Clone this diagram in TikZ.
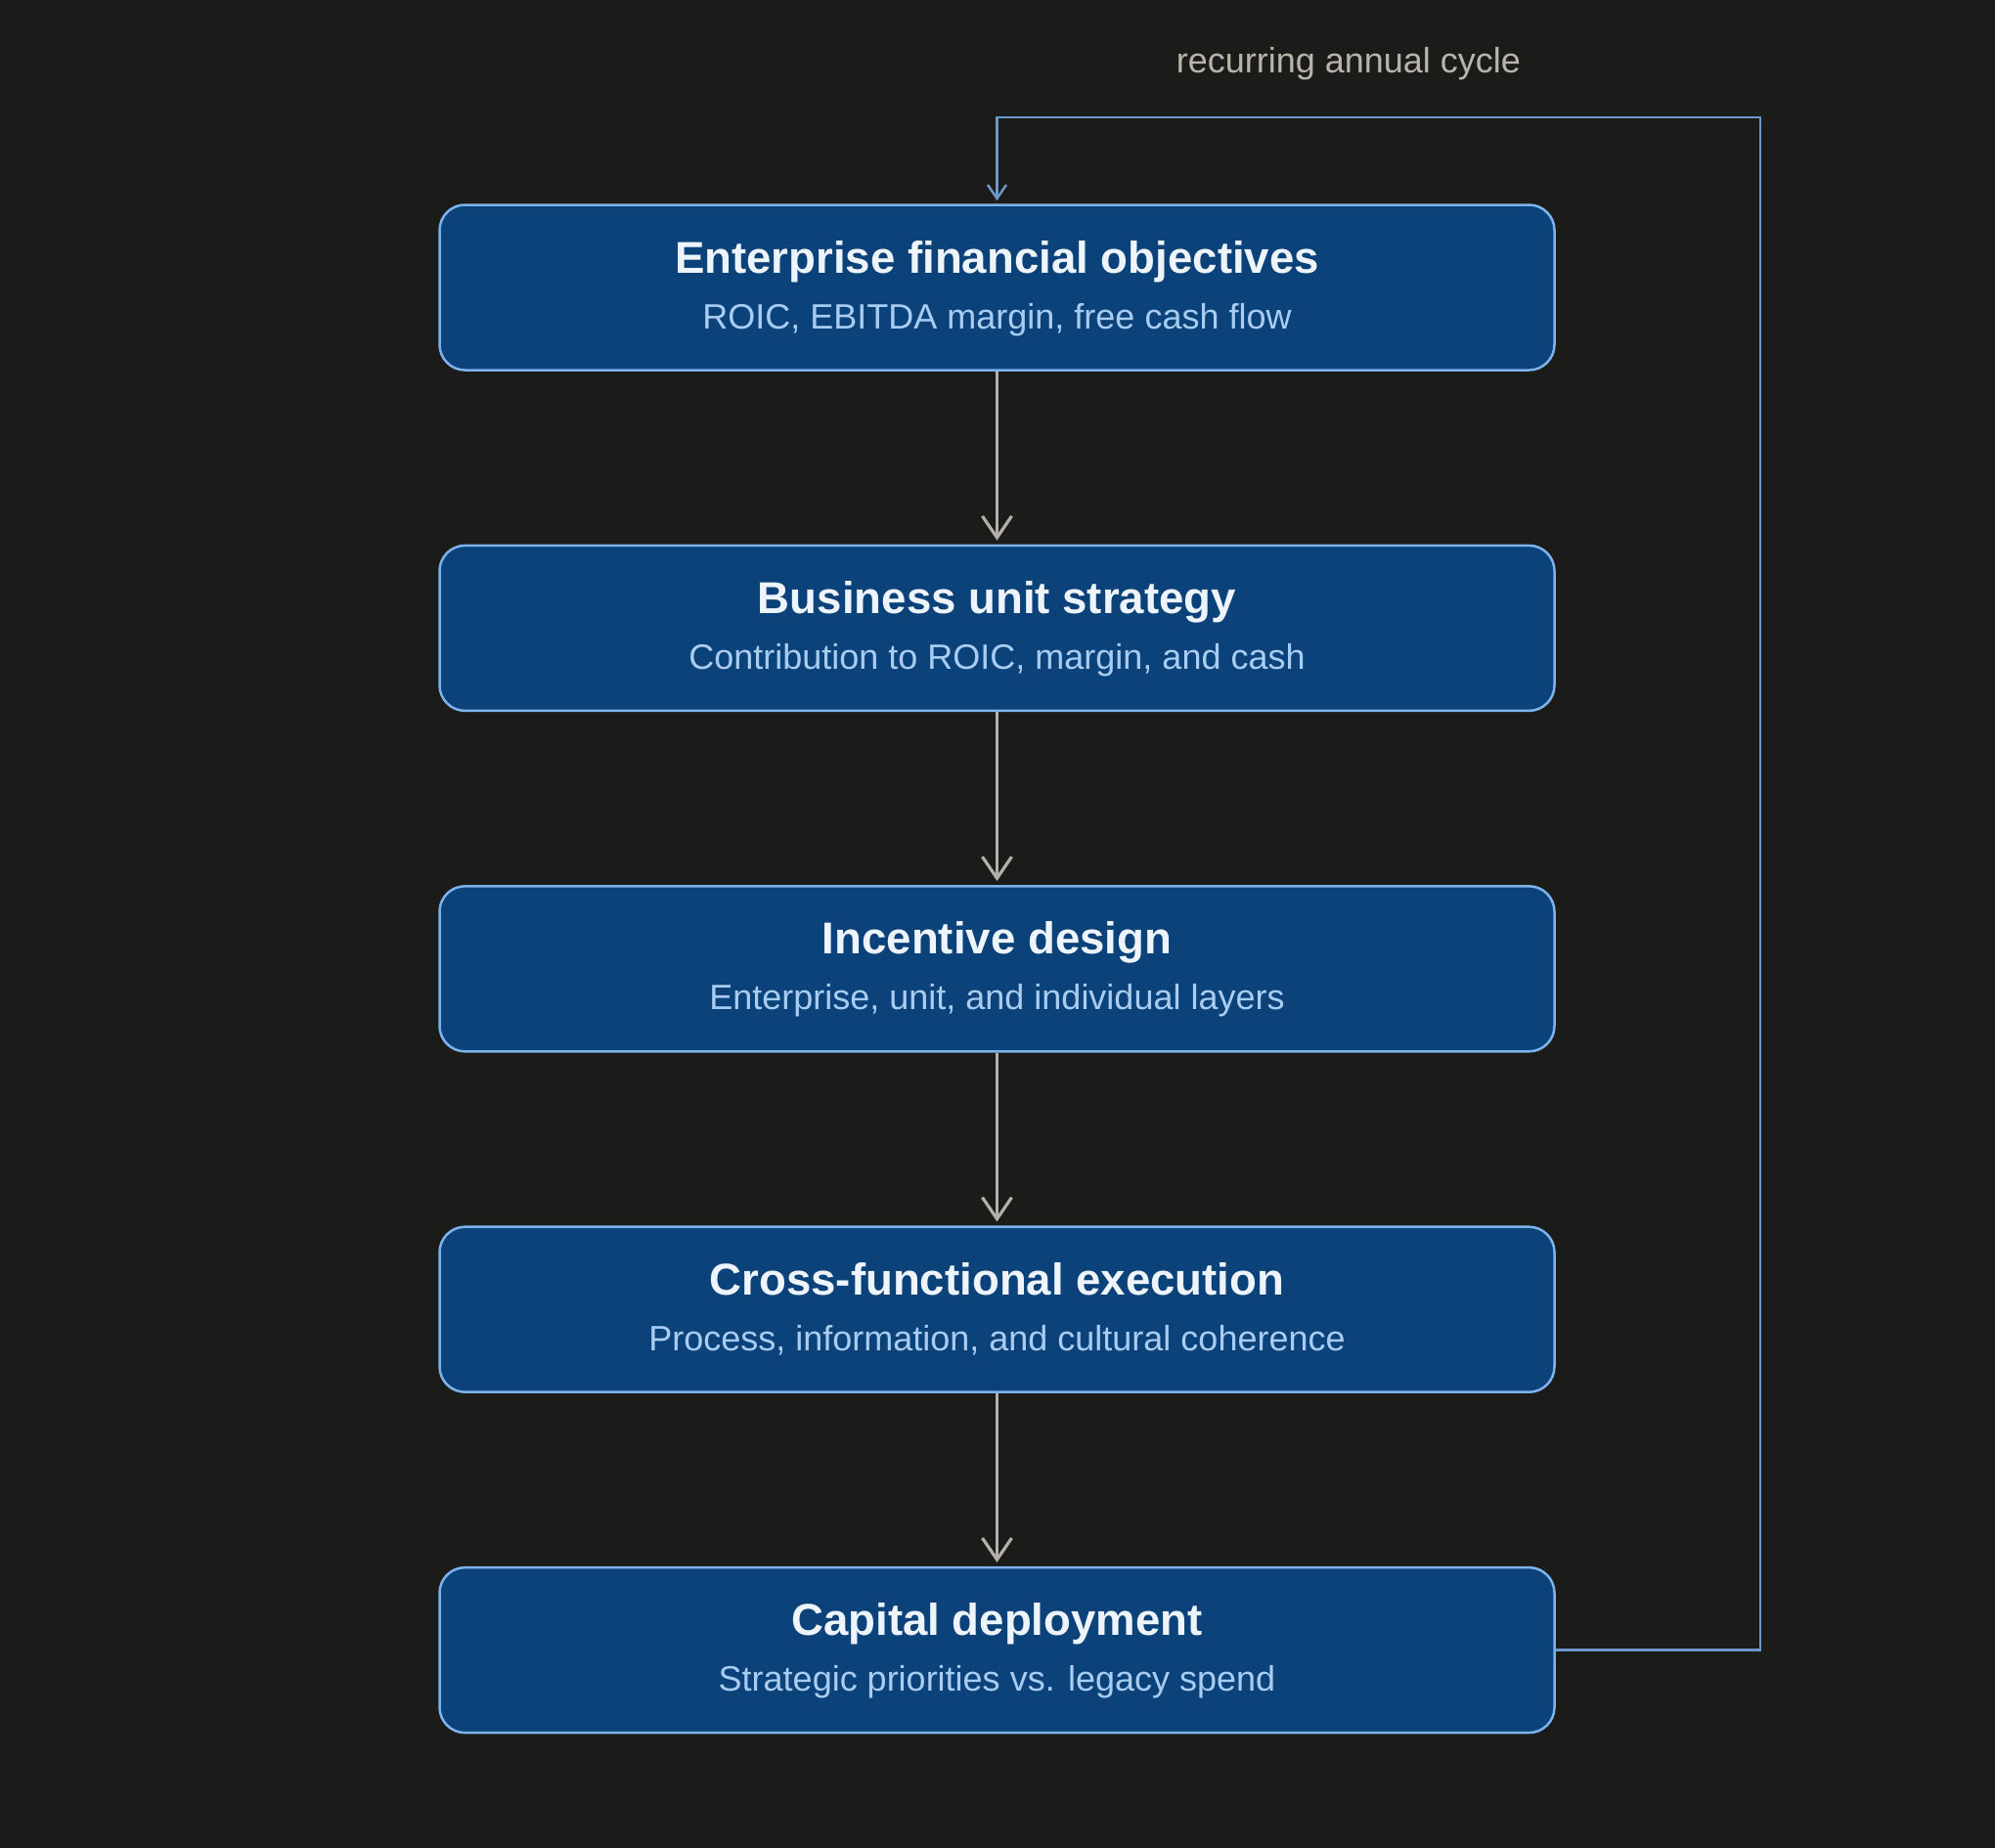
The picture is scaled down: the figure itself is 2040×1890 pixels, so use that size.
\documentclass[tikz,border=0pt]{standalone}
\usepackage{fontspec}
\setmainfont{Liberation Sans}
\usetikzlibrary{arrows.meta}
\definecolor{bgc}{HTML}{1B1B19}
\definecolor{boxfill}{HTML}{0C427A}
\definecolor{boxline}{HTML}{7EB2EA}
\definecolor{titlec}{HTML}{EEF4FB}
\definecolor{subc}{HTML}{A9CDF2}
\definecolor{arrowc}{HTML}{B2B0A8}
\definecolor{loopc}{HTML}{6C97CA}
\definecolor{labelc}{HTML}{B8B4AA}
\tikzset{
  stagebox/.style={draw=boxline, line width=2.5pt, fill=boxfill, rounded corners=26pt,
    minimum width=1140pt, minimum height=169pt, inner sep=0pt},
  titletext/.style={anchor=base, text=titlec, font=\fontsize{45.6}{54}\selectfont\bfseries, inner sep=0pt},
  subtext/.style={anchor=base, text=subc, font=\fontsize{36}{42}\selectfont, inner sep=0pt},
  flowarrow/.style={draw=arrowc, line width=3.2pt, -{Straight Barb[length=22pt,width=30pt,line width=3.2pt]}, shorten >=4pt},
  looparrow/.style={draw=loopc, line width=2.5pt, -{Straight Barb[length=14pt,width=19pt,line width=2.5pt]}, shorten >=3pt},
}
\begin{document}
\begin{tikzpicture}[x=1pt,y=-1pt]
\fill[bgc] (0,0) rectangle (2040,1890);
\useasboundingbox (0,0) rectangle (2040,1890);

\node[stagebox] (b1) at (1019.5,294) {};
\node[stagebox] (b2) at (1019.5,642.4) {};
\node[stagebox] (b3) at (1019.5,990.8) {};
\node[stagebox] (b4) at (1019.5,1339.2) {};
\node[stagebox] (b5) at (1019.5,1687.6) {};

\node[titletext] (t1) at ([yshift=15pt]b1.center) {Enterprise financial objectives};
\node[subtext] (s1) at ([yshift=-42pt]b1.center) {ROIC, EBITDA margin, free cash flow};
\node[titletext] (t2) at ([yshift=15pt]b2.center) {Business unit strategy};
\node[subtext] (s2) at ([yshift=-42pt]b2.center) {Contribution to ROIC, margin, and cash};
\node[titletext] (t3) at ([yshift=15pt]b3.center) {Incentive design};
\node[subtext] (s3) at ([yshift=-42pt]b3.center) {Enterprise, unit, and individual layers};
\node[titletext] (t4) at ([yshift=15pt]b4.center) {Cross-functional execution};
\node[subtext] (s4) at ([yshift=-42pt]b4.center) {Process, information, and cultural coherence};
\node[titletext] (t5) at ([yshift=15pt]b5.center) {Capital deployment};
\node[subtext] (s5) at ([yshift=-42pt]b5.center) {Strategic priorities vs. legacy spend};

\draw[flowarrow] (b1.south) -- (b2.north);
\draw[flowarrow] (b2.south) -- (b3.north);
\draw[flowarrow] (b3.south) -- (b4.north);
\draw[flowarrow] (b4.south) -- (b5.north);

\coordinate (lr) at (1800,1687.6);
\coordinate (tr) at (1800,120);
\coordinate (tl) at (1019.5,120);
\draw[looparrow] (b5.east) -- (lr) -- (tr) -- (tl) -- (b1.north);

\node[anchor=base, text=labelc, font=\fontsize{36}{42}\selectfont, inner sep=0pt] (lbl) at (1379,74) {recurring annual cycle};
\end{tikzpicture}
\end{document}
